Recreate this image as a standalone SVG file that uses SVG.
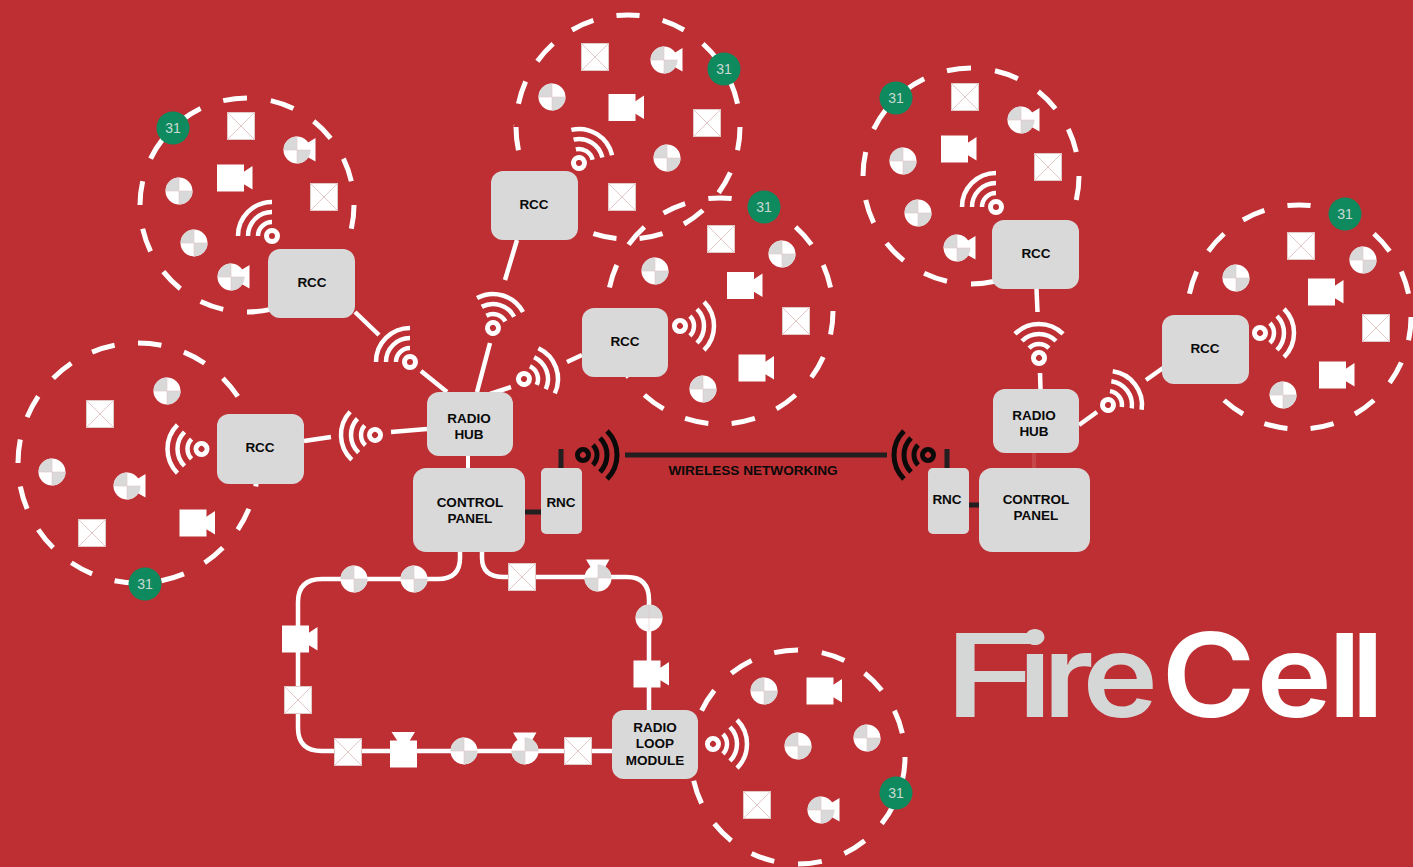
<svg xmlns="http://www.w3.org/2000/svg" width="1413" height="867" viewBox="0 0 1413 867">
<style>
text{font-family:"Liberation Sans",Arial,sans-serif}
.ring{fill:none;stroke:#fff;stroke-width:5;stroke-dasharray:24 24}
.box{fill:#d9d9d9}
.lbl{font-size:13.5px;font-weight:700;fill:#0a0a0a;text-anchor:middle}
.wire{fill:none;stroke:#fff;stroke-width:4.5}
.dark{fill:none;stroke:#231f20;stroke-width:5}
.badge{fill:#0f8a5f}
.num{font-size:14px;fill:#c9d9d2;text-anchor:middle}
.w{fill:#fff}.g{fill:#d9d9d9}
.hair{stroke:#e3c8c8;stroke-width:1;fill:none}
.arc{fill:none;stroke:#fff;stroke-width:4.5}
.dot{fill:none;stroke:#fff;stroke-width:5}
.arcb{fill:none;stroke:#0a0a0a;stroke-width:5}
.dotb{fill:none;stroke:#0a0a0a;stroke-width:5}
.logo{font-family:Inter,"Liberation Sans",sans-serif;font-size:116px;font-weight:600}
</style>
<defs>
<g id="sensor"><circle r="13.5" class="w"/><path class="g" d="M0 0H-13.5A13.5 13.5 0 0 1 0-13.5ZM0 0H13.5A13.5 13.5 0 0 1 0 13.5Z"/><path class="hair" d="M-13.5 0H13.5M0-13.5V13.5" opacity=".6"/></g>
<g id="sensort"><circle r="13.5" class="w"/><path class="g" d="M-13.5 0A13.5 13.5 0 0 1 13.5 0Z"/><path class="hair" d="M-13.5 0H13.5M0-13.5V13.5" opacity=".6"/></g>
<g id="xbox"><rect x="-13.5" y="-13.5" width="27" height="27" class="w" stroke="#e3c8c8"/><path class="hair" d="M-13 -13L13 13M13 -13L-13 13"/></g>
<g id="cam"><rect x="-13.5" y="-13.5" width="27" height="27" class="w"/><path class="w" d="M13 -6L22 -12V11.5L13 6Z"/></g>
<g id="camc"><path class="w" d="M7 -5L18.5 -12V11.5L7 5Z"/><use href="#sensor"/></g>
<g id="wifi"><circle r="5.5" class="dot"/><path class="arc" d="M-14 0A14 14 0 0 1 0-14M-24 0A24 24 0 0 1 0-24M-34 0A34 34 0 0 1 0-34"/></g>
<g id="wifib"><circle r="5.5" class="dotb"/><path class="arcb" d="M-14 0A14 14 0 0 1 0-14M-24 0A24 24 0 0 1 0-24M-34 0A34 34 0 0 1 0-34"/></g>
</defs>
<rect width="1413" height="867" fill="#bd2f33"/>
<g id="connectors">
<path class="wire" d="M355 312L379 335M421 371L447 392M304 441L331 437M391 432L427 429M517 240L505 280M490 343L477 392M582 355L567 362M511 387L490 394M1036.500 289L1037.500 312M1040 373L1040.500 389M1079 425L1097 412M1146 380L1163 368"/>
<path class="wire" d="M460 552V558Q460 579 438 579H322Q298 579 298 602V728Q298 751 322 751H612"/>
<path class="wire" d="M482 552V558Q482 577 504 577H627Q649 577 649 600V710"/>
<path d="M468 456V468" fill="none" stroke="#fff" stroke-width="4"/>
<path d="M1034 453V468" fill="none" stroke="#c6474a" stroke-width="4"/>
<path class="dark" d="M525 512H541M968 505H979M561 449V468M947 449V468M625 455H887"/>
</g>
<g id="ring1"><circle class="ring" cx="247" cy="205" r="107" pathLength="672"/></g>
<g id="ring2"><circle class="ring" cx="138" cy="463" r="120" pathLength="768"/></g>
<g id="ring3"><circle class="ring" cx="628" cy="127" r="112" pathLength="720"/></g>
<g id="ring4"><circle class="ring" cx="720" cy="311" r="113" pathLength="720"/></g>
<g id="ring5"><circle class="ring" cx="971" cy="176" r="108" pathLength="672"/></g>
<g id="ring6"><circle class="ring" cx="1299" cy="317" r="112" pathLength="720"/></g>
<g id="ring7"><circle class="ring" cx="798" cy="757" r="107" pathLength="672"/></g>
<g id="icons">
<use href="#xbox" x="241" y="126"/><use href="#camc" x="297" y="150"/><use href="#cam" x="230.500" y="178"/><use href="#xbox" x="324" y="197"/><use href="#sensor" x="179" y="191"/><use href="#sensor" x="194" y="243"/><use href="#camc" x="231" y="277"/>
<use href="#xbox" x="100" y="414"/><use href="#sensor" x="167" y="391"/><use href="#sensor" x="52" y="472"/><use href="#camc" x="127" y="486"/><use href="#cam" x="193" y="523"/><use href="#xbox" x="92" y="533"/>
<use href="#xbox" x="595" y="57"/><use href="#camc" x="664" y="60"/><use href="#cam" x="622" y="107.500"/><use href="#xbox" x="707" y="123"/><use href="#sensor" x="552" y="97"/><use href="#sensor" x="667" y="158"/><use href="#xbox" x="622" y="197"/>
<use href="#xbox" x="721" y="239"/><use href="#sensor" x="782" y="254"/><use href="#sensor" x="655" y="271"/><use href="#cam" x="740.500" y="285.500"/><use href="#xbox" x="796" y="321"/><use href="#cam" x="752" y="368"/><use href="#sensor" x="703" y="389"/>
<use href="#xbox" x="965" y="97"/><use href="#camc" x="1021" y="120"/><use href="#cam" x="954.500" y="149"/><use href="#xbox" x="1048" y="167"/><use href="#sensor" x="903" y="161"/><use href="#sensor" x="918" y="213"/><use href="#camc" x="957" y="248"/>
<use href="#xbox" x="1301" y="246"/><use href="#sensor" x="1363" y="260"/><use href="#sensor" x="1236" y="278"/><use href="#cam" x="1321.500" y="292"/><use href="#xbox" x="1376" y="328"/><use href="#cam" x="1332.500" y="375"/><use href="#sensor" x="1283" y="395"/>
<use href="#sensor" x="764" y="691"/><use href="#cam" x="820" y="691"/><use href="#sensor" x="798" y="746"/><use href="#sensor" x="867" y="738"/><use href="#xbox" x="757" y="805"/><use href="#camc" x="821" y="810"/>
<use href="#sensor" x="354" y="579"/><use href="#sensor" x="414" y="579"/><use href="#xbox" x="522" y="577"/><use href="#camc" transform="translate(598 578) rotate(-90)"/><use href="#sensort" x="649" y="618"/><use href="#cam" x="647" y="674"/><use href="#cam" x="295.500" y="639"/><use href="#xbox" x="298" y="700"/><use href="#xbox" x="348" y="752"/><use href="#cam" transform="translate(403.500 754) rotate(-90)"/><use href="#sensor" x="464" y="751"/><use href="#camc" transform="translate(525 751) rotate(-90)"/><use href="#xbox" x="578" y="751"/>
</g>
<g id="wifis">
<use href="#wifi" transform="translate(272 236)"/>
<use href="#wifi" transform="translate(410 362)"/>
<use href="#wifi" transform="translate(493 328) rotate(62)"/>
<use href="#wifi" transform="translate(524 379) rotate(115)"/>
<use href="#wifi" transform="translate(375 435) rotate(-47)"/>
<use href="#wifi" transform="translate(201.500 449) rotate(-45)"/>
<use href="#wifi" transform="translate(579 163) rotate(77)"/>
<use href="#wifi" transform="translate(680 326) rotate(135)"/>
<use href="#wifi" transform="translate(996 207)"/>
<use href="#wifi" transform="translate(1039 358) rotate(45)"/>
<use href="#wifi" transform="translate(1108 405) rotate(98)"/>
<use href="#wifi" transform="translate(1260 333) rotate(135)"/>
<use href="#wifi" transform="translate(713 744) rotate(135)"/>
<use href="#wifib" transform="translate(583 455) rotate(135)"/>
<use href="#wifib" transform="translate(928 455) rotate(-45)"/>
</g>
<g id="rcc1"><rect class="box" x="268" y="249" width="87" height="69" rx="12"/><text class="lbl" x="312" y="287">RCC</text></g>
<g id="rcc2"><rect class="box" x="217" y="414" width="87" height="70" rx="12"/><text class="lbl" x="260" y="452">RCC</text></g>
<g id="rcc3"><rect class="box" x="491" y="171" width="87" height="69" rx="12"/><text class="lbl" x="534" y="209">RCC</text></g>
<g id="rcc4"><rect class="box" x="582" y="308" width="86" height="69" rx="12"/><text class="lbl" x="625" y="346">RCC</text></g>
<g id="rcc5"><rect class="box" x="992" y="220" width="87" height="69" rx="12"/><text class="lbl" x="1036" y="258">RCC</text></g>
<g id="rcc6"><rect class="box" x="1162" y="315" width="87" height="69" rx="12"/><text class="lbl" x="1205" y="353">RCC</text></g>
<g id="hub1"><rect class="box" x="427" y="392" width="86" height="64" rx="12"/><text class="lbl" x="469" y="423">RADIO</text><text class="lbl" x="469" y="439">HUB</text></g>
<g id="hub2"><rect class="box" x="993" y="389" width="86" height="64" rx="12"/><text class="lbl" x="1034" y="420">RADIO</text><text class="lbl" x="1034" y="436">HUB</text></g>
<g id="panel1"><rect class="box" x="413" y="468" width="112" height="84" rx="13"/><text class="lbl" x="470" y="507">CONTROL</text><text class="lbl" x="470" y="523">PANEL</text></g>
<g id="panel2"><rect class="box" x="979" y="468" width="111" height="84" rx="13"/><text class="lbl" x="1036" y="504">CONTROL</text><text class="lbl" x="1036" y="520">PANEL</text></g>
<g id="rnc1"><rect class="box" x="541" y="468" width="41" height="66" rx="5"/><text class="lbl" x="561" y="507">RNC</text></g>
<g id="rnc2"><rect class="box" x="928" y="468" width="41" height="66" rx="5"/><text class="lbl" x="947" y="504">RNC</text></g>
<g id="loop"><rect class="box" x="612" y="710" width="86" height="69" rx="12"/><text class="lbl" x="655" y="732">RADIO</text><text class="lbl" x="655" y="748">LOOP</text><text class="lbl" x="655" y="765">MODULE</text></g>
<text x="753" y="475" class="lbl" style="font-size:13.600px">WIRELESS NETWORKING</text>
<g id="badges">
<circle class="badge" cx="173" cy="128" r="16.500"/><text class="num" x="173" y="133">31</text>
<circle class="badge" cx="145" cy="584" r="16.500"/><text class="num" x="145" y="589">31</text>
<circle class="badge" cx="724" cy="69" r="16.500"/><text class="num" x="724" y="74">31</text>
<circle class="badge" cx="764" cy="207" r="16.500"/><text class="num" x="764" y="212">31</text>
<circle class="badge" cx="896" cy="98" r="16.500"/><text class="num" x="896" y="103">31</text>
<circle class="badge" cx="1345" cy="214" r="16.500"/><text class="num" x="1345" y="219">31</text>
<circle class="badge" cx="896" cy="793" r="16.500"/><text class="num" x="896" y="798">31</text>
</g>
<g id="logo" transform="translate(955 0) scale(1.1 1)">
<text class="logo" y="717" fill="#d5d6d6" x="-11" textLength="88" lengthAdjust="spacingAndGlyphs" style="font-weight:500">F</text>
<text class="logo" y="717" fill="#d5d6d6" x="57.500 80 116">ire</text>
<text class="logo" y="717" fill="#fff" x="187.700 274 339 360">Cell</text>
</g>
</svg>
